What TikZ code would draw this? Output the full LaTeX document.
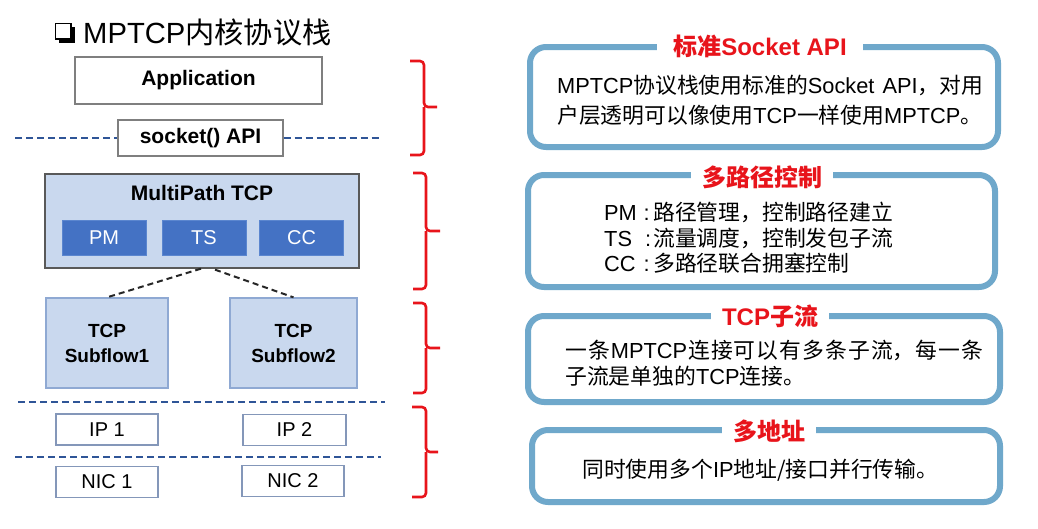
\documentclass[tikz,border=0pt]{standalone}
\usepackage{fontspec}
\setmainfont{Liberation Sans}
\newfontfamily\cjk{Noto Sans CJK SC}
\newcommand\zh[1]{{\cjk #1}}
% stretchable gap used to justify a full line of Chinese text
\newcommand\jg{\hskip 0pt plus 1fil\relax}

\definecolor{layerfill}{HTML}{C9D8EE}
\definecolor{modfill}{HTML}{4472C4}
\definecolor{modedge}{HTML}{5B86CF}
\definecolor{sepblue}{HTML}{2F5597}
\definecolor{panelblue}{HTML}{6FA8CB}
\definecolor{hired}{HTML}{E8141B}
\definecolor{grayedge}{HTML}{7F7F7F}
\definecolor{blueedge}{HTML}{8497B9}
\definecolor{flowedge}{HTML}{8FA9D3}

\tikzset{
  layerbox/.style={draw=grayedge, line width=1.3pt, fill=white, inner sep=0pt,
    font=\bfseries\fontsize{21}{25}\selectfont},
  mpbox/.style={draw=black!65, line width=1.3pt, fill=layerfill, inner sep=0pt},
  modbox/.style={draw=modedge, line width=0.8pt, fill=modfill, text=white, inner sep=0pt,
    minimum width=84pt, minimum height=35pt, font=\fontsize{20}{24}\selectfont},
  flowbox/.style={draw=flowedge, line width=1.3pt, fill=layerfill, inner sep=0pt,
    minimum height=90pt, align=center, font=\bfseries\fontsize{19}{25}\selectfont},
  addrbox/.style={draw=blueedge, line width=1.3pt, fill=white, inner sep=0pt,
    minimum width=102pt, minimum height=31pt, font=\fontsize{20}{24}\selectfont},
  sepline/.style={draw=sepblue, line width=2pt, dash pattern=on 7pt off 4pt},
  linkline/.style={draw=black!85, line width=2pt, dash pattern=on 6pt off 4pt},
  bracepath/.style={draw=hired, line width=2.6pt, rounded corners=4pt},
  panel/.style={draw=panelblue, line width=6pt, rounded corners=16pt},
  paneltitle/.style={fill=white, inner xsep=11pt, inner ysep=2pt, text=hired,
    font=\bfseries\fontsize{24}{28}\selectfont},
  paneltext/.style={anchor=base west, inner sep=0pt, font=\fontsize{21.8}{26}\selectfont},
}

\begin{document}
\begin{tikzpicture}[x=1pt, y=-1pt]
\useasboundingbox (0,0) rectangle (1038,528);
\fill[white] (0,0) rectangle (1038,528);

% heading with a shadowed check box
\draw[line width=1.8pt] (55.5,23.5) rectangle (71,39);
\fill (71,26.5) rectangle (74.5,42.5);
\fill (58.5,39) rectangle (74.5,42.5);
\node[anchor=base west, inner sep=0pt, font=\fontsize{29.2}{33}\selectfont] (head) at (83,43)
  {MPTCP\zh{内核协议栈}};

% protocol stack
\node[layerbox, minimum width=247pt, minimum height=47pt] (app) at (198.5,80.5) {Application};
\node[layerbox, minimum width=165pt, minimum height=36pt] (sock) at (200.5,138) {socket() API};
\coordinate (s1a) at (15,138);
\coordinate (s1b) at (380,138);
\draw[sepline] (s1a) -- (sock.west);
\draw[sepline] (sock.east) -- (s1b);

\node[mpbox, minimum width=314pt, minimum height=94pt] (mp) at (202,221) {};
\node[inner sep=0pt, font=\bfseries\fontsize{21}{25}\selectfont] (mptitle) at (202,193) {MultiPath TCP};
\node[modbox] (pm) at (104,237.5) {PM};
\node[modbox] (ts) at (204,237.5) {TS};
\node[modbox] (cc) at (301.5,237.5) {CC};

\node[flowbox, minimum width=122pt] (sf1) at (107,343) {TCP\\Subflow1};
\node[flowbox, minimum width=127pt] (sf2) at (293.5,343) {TCP\\Subflow2};
\draw[linkline] ([xshift=-1pt]mp.south) -- (sf1.north);
\draw[linkline] ([xshift=13pt,yshift=-1pt]mp.south) -- (sf2.north);

\coordinate (s2a) at (18,402);
\coordinate (s2b) at (385,402);
\draw[sepline] (s2a) -- (s2b);
\node[addrbox] (ip1) at (107,429.5) {IP 1};
\node[addrbox, minimum width=103pt] (ip2) at (294.5,430) {IP 2};
\coordinate (s3a) at (15,457);
\coordinate (s3b) at (381,457);
\draw[sepline] (s3a) -- (s3b);
\node[addrbox] (nic1) at (107,482) {NIC 1};
\node[addrbox] (nic2) at (293,481) {NIC 2};

% braces grouping the layers
\draw[bracepath] (410,61) -| (424,107) -- (437,107);
\draw[bracepath] (410,155) -| (424,107);
\draw[bracepath] (413,173) -| (426,231) -- (440,231);
\draw[bracepath] (413,289) -| (426,231);
\draw[bracepath] (413,303) -| (426,348) -- (440,348);
\draw[bracepath] (413,393) -| (426,348);
\draw[bracepath] (412,407) -| (426,452) -- (438,452);
\draw[bracepath] (412,497) -| (426,452);

% explanation panels
\draw[panel] (530,47) rectangle (998,147);
\node[paneltitle, inner xsep=16pt] (p1) at (760,46) {\zh{标准}Socket API};
\node[paneltext] (p1a) at (557,93) {\makebox[425pt][s]{MPTCP\zh{协议栈使用标准的}Socket\ \ API\zh{，对用}}};
\node[paneltext] (p1b) at (557,123) {\zh{户层透明可以像使用}TCP\zh{一样使用}MPTCP\zh{。}};

\draw[panel] (528,175) rectangle (995,287);
\node[paneltitle] (p2) at (762,177) {\zh{多路径控制}};
\node[paneltext] (p2a) at (604,220) {\makebox[36pt][l]{PM}\makebox[13pt][c]{:}\zh{路径管理，控制路径建立}};
\node[paneltext] (p2b) at (604,246) {\makebox[36pt][l]{TS}\makebox[13pt][c]{\hspace{3pt}:}\zh{流量调度，控制发包子流}};
\node[paneltext] (p2c) at (604,271) {\makebox[36pt][l]{CC}\makebox[13pt][c]{:}\zh{多路径联合拥塞控制}};

\draw[panel] (528,316) rectangle (1000,402);
\node[paneltitle] (p3) at (770,316) {TCP\zh{子流}};
\node[paneltext] (p3a) at (565,358) {\makebox[418pt][s]{\zh{一\jg 条}\jg MPTCP\jg\zh{连\jg 接\jg 可\jg 以\jg 有\jg 多\jg 条\jg 子\jg 流，\jg 每\jg 一\jg 条}}};
\node[paneltext] (p3b) at (565,384) {\zh{子流是单独的}TCP\zh{连接。}};

\draw[panel] (532,430) rectangle (1000,502);
\node[paneltitle] (p4) at (769,431) {\zh{多地址}};
\node[paneltext] (p4a) at (582,477) {\zh{同时使用多个}IP\zh{地址/接口并行传输。}};
\end{tikzpicture}
\end{document}
